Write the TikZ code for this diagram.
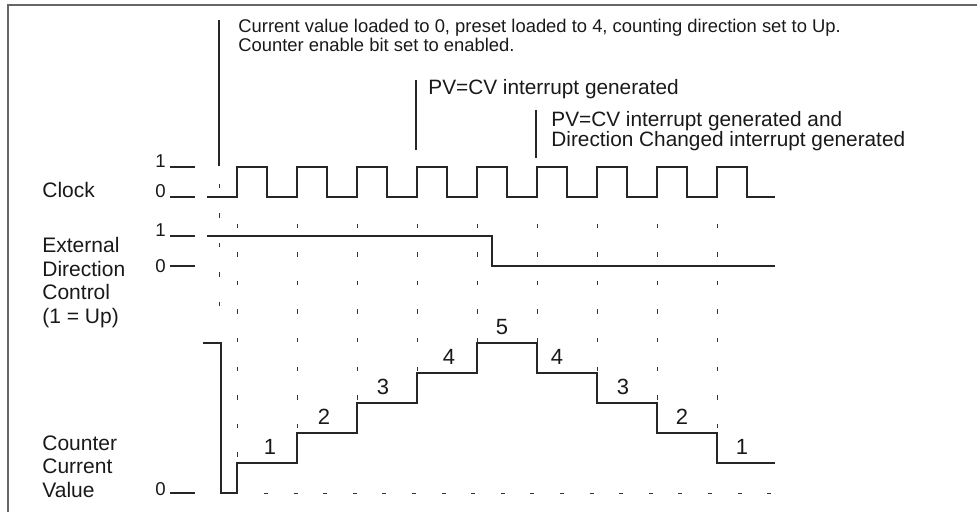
\documentclass[tikz,border=0pt]{standalone}
\usepackage{fontspec}
\setmainfont{Liberation Sans}
\usepackage{tikz}

\begin{document}
\begin{tikzpicture}[
            x = 0.5pt, y = -0.5pt, % one unit per pixel, y downward
            signal/.style = {line width=0.65pt, draw=black!85},
            guide/.style = {line width=0.5pt, draw=black!80, dash pattern=on 2.25pt off 12pt},
            lbl/.style = {anchor=base west, inner sep=0pt, align=left, text=black!90,
                          font=\fontsize{10.5}{11.7}\selectfont},
            lvl/.style = {anchor=base east, inner sep=0pt, text=black!90,
                          font=\fontsize{9.3}{10}\selectfont},
            note/.style = {anchor=base west, inner sep=0pt, align=left, text=black!90,
                           font=\fontsize{10.4}{10}\selectfont},
            count/.style = {inner sep=0pt, text=black!90, font=\fontsize{11}{12}\selectfont}
        ]
\useasboundingbox (0,0) rectangle (977,512);

% frame
\draw[line width=1pt, draw=black!60] (8,530) -- (8,5) -- (990,5);

% row labels (multi-line nodes sit on their last line)
\node[lbl] (clock) at (42,198) {Clock};
\node[lbl] (dir) at (42,323) {External\\Direction\\Control\\(1 = Up)};
\node[lbl] (cv) at (42,497) {Counter\\Current\\Value};

% level marks
\node[lvl] (clk1) at (166,168) {1};
\node[lvl] (clk0) at (166,198) {0};
\node[lvl] (dir1) at (166,237) {1};
\node[lvl] (dir0) at (166,273) {0};
\node[lvl] (cv0) at (166,495) {0};
\foreach \y in {167,197,236,266,493}
    \draw[signal] (170,\y) -- (195,\y);

% clock
\draw[signal] (207,197) \foreach \k in {0,...,8}{
    -- ({237+60*\k},197) -- ({237+60*\k},167) -- ({267+60*\k},167) -- ({267+60*\k},197)
} -- (775,197);

% direction control
\draw[signal] (207,236) -- (492,236) -- (492,266) -- (775,266);

% counter current value
\draw[signal] (203,343) -- (221,343) -- (221,493) -- (237,493)
    -- (237,463) -- (297,463) -- (297,433) -- (357,433) -- (357,403)
    -- (417,403) -- (417,373) -- (477,373) -- (477,343) -- (537,343)
    -- (537,373) -- (597,373) -- (597,403) -- (657,403) -- (657,433)
    -- (717,433) -- (717,463) -- (775,463);
\draw[line width=0.5pt, draw=black!80, dash pattern=on 2pt off 12.8pt] (264,493) -- (775,493);

\foreach \x/\n [count=\i] in {270/1,324/2,383/3,449/4,502/5,557/4,623/3,682/2,742/1}
    \node[count] (step\i) at (\x,{477-30*\n}) {\n};

% guides at the clock edges
\draw[guide, dash pattern=on 2.25pt off 12.5pt] (219,184) -- (219,310);
\foreach \k/\lev in {0/1,1/2,2/3,3/4,4/5,5/5,6/4,7/3,8/2}
    \draw[guide] ({237+60*\k},224) -- ({237+60*\k},{493-30*\lev});

% events
\draw[signal] (219,20) -- (219,166);
\node[note, font=\fontsize{9.2}{8.3}\selectfont] (load) at (238,52)
    {Current value loaded to 0, preset loaded to 4, counting direction set to Up.\\
     Counter enable bit set to enabled.};
\draw[signal] (416,80) -- (416,150);
\node[note] (irq) at (428,95) {PV=CV interrupt generated};
\draw[signal] (536,110) -- (536,158);
\node[note] (irqdir) at (551,147)
    {PV=CV interrupt generated and\\Direction Changed interrupt generated};
\end{tikzpicture}
\end{document}
